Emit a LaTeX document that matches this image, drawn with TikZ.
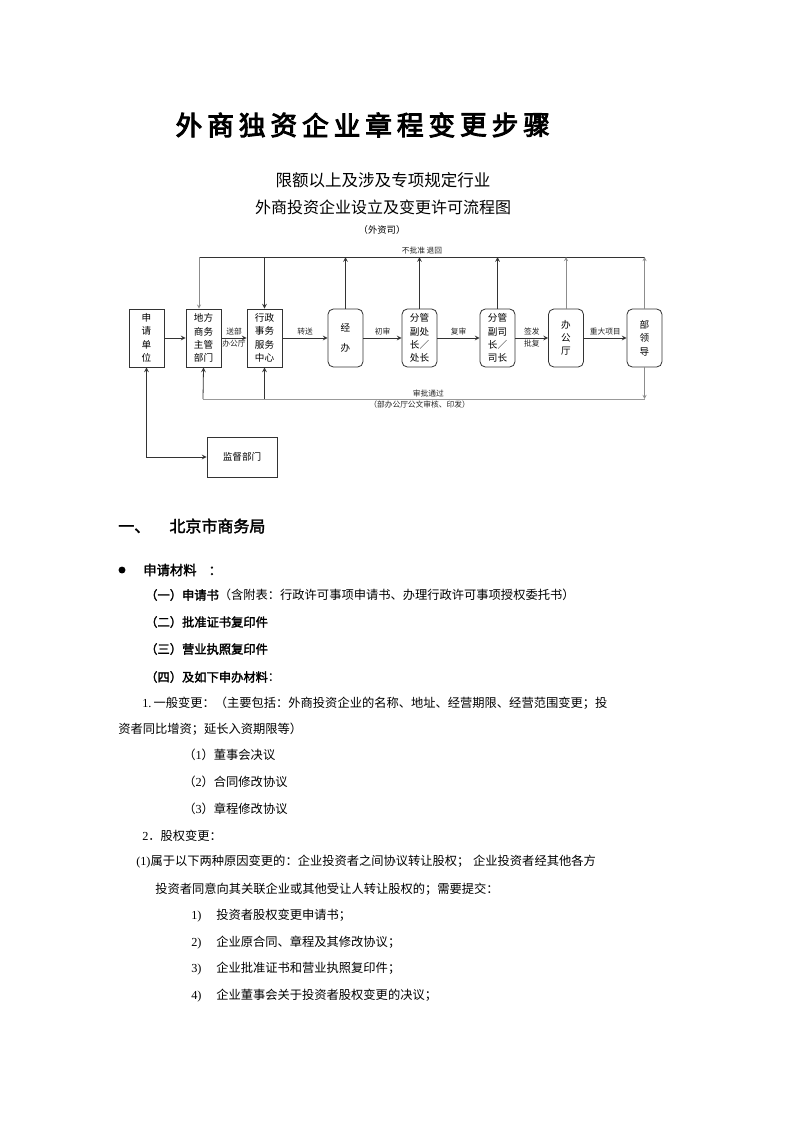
\documentclass[tikz,border=0pt]{standalone}
\usepackage{fontspec}
\usepackage{tikz}
\usetikzlibrary{arrows}
\newfontfamily\cjk[AutoFakeBold=2]{Noto Sans CJK SC}
\newfontfamily\cjktitle[FakeBold=3.5]{Noto Sans CJK SC}
\newfontfamily\lat{Liberation Serif}

\begin{document}
\begin{tikzpicture}[x=0.75pt,y=-0.75pt,
    box/.style={draw=black!80, line width=0.6pt, minimum width=26.25pt, minimum height=43.5pt, inner sep=0pt, align=center, font=\cjk\fontsize{7.2}{10}\selectfont},
    rbox/.style={box, rounded corners=4pt},
    lbl/.style={font=\cjk\fontsize{5.8}{7}\selectfont, inner sep=1.5pt, text=black!85},
    arr/.style={-stealth, line width=0.6pt, black!80},
    garr/.style={-stealth, line width=0.4pt, black!45},
    ln/.style={line width=0.6pt, black!80},
    gln/.style={line width=0.4pt, black!40},
    txt/.style={anchor=west, inner sep=0pt, font=\cjk\fontsize{9.2}{11}\selectfont}]
    \fill[white] (0,0) rectangle (793,1122);
    \useasboundingbox (0,0) rectangle (793,1122);
    %% Title
    \foreach \c [count=\i from 0] in {外,商,独,资,企,业,章,程,变,更,步,骤}
        \node[font=\cjktitle\fontsize{20}{20}\selectfont, inner sep=0pt] at (189+31.6*\i,125) {\c};
    %% Chart heading
    \node[font=\cjk\fontsize{12.4}{14}\selectfont] (head1) at (383,180) {限额以上及涉及专项规定行业};
    \node[font=\cjk\fontsize{12}{14}\selectfont] (head2) at (383,207) {外商投资企业设立及变更许可流程图};
    \node[font=\cjk\fontsize{7}{8}\selectfont] (head3) at (382,230) {（外资司）};
    %% Boxes
    \node[box] (sq) at (146.5,338) {申\\请\\单\\位};
    \node[box] (df) at (203.5,338) {地方\\商务\\主管\\部门};
    \node[box] (xz) at (264.5,338) {行政\\事务\\服务\\中心};
    \node[rbox, font=\cjk\fontsize{7.2}{15}\selectfont] (jb) at (345.5,338) {经\\办};
    \node[rbox] (fc) at (419.5,338) {分管\\副处\\长／\\处长};
    \node[rbox] (fs) at (497.5,338) {分管\\副司\\长／\\司长};
    \node[rbox] (bgt) at (566,338) {办\\公\\厅};
    \node[rbox] (bld) at (644.5,338) {部\\领\\导};
    \node[box, minimum width=52.5pt, minimum height=30pt] (jd) at (242,457) {监督部门};
    %% Main flow
    \draw[arr] (sq) -- (df);
    \draw[arr] (df) -- node[lbl,above]{送部} node[lbl,below]{办公厅} (xz);
    \draw[arr] (xz) -- node[lbl,above]{转送} (jb);
    \draw[arr] (jb) -- node[lbl,above]{初审} (fc);
    \draw[arr] (fc) -- node[lbl,above]{复审} (fs);
    \draw[arr] (fs) -- node[lbl,above]{签发} node[lbl,below]{批复} (bgt);
    \draw[arr] (bgt) -- node[lbl,above]{重大项目} (bld);
    %% Return line
    \coordinate (tl) at (199,257);
    \coordinate (tr) at (645,257);
    \draw[ln] (tl) -- node[lbl,above]{不批准\ 退回} (tr);
    \draw[garr] (tl) -- (tl |- df.north);
    \draw[arr] (xz.north |- tl) -- (xz.north);
    \foreach \n in {jb,fc,fs}
        \draw[arr] (\n.north) -- (\n.north |- tl);
    \draw[garr] (bgt.north) -- (bgt.north |- tl);
    \draw[garr] (bld.north) -- (bld.north |- tl);
    %% Approval line
    \coordinate (bl) at (203,399);
    \coordinate (br) at (645,399);
    \draw[gln] (bl) -- node[lbl,above,pos=0.51]{审批通过} node[lbl,below,pos=0.49]{（部办公厅公文审核、印发）} (br);
    \draw[arr] (bl) -- (df.south);
    \draw[arr] (xz.south |- bl) -- (xz.south);
    \draw[garr] (bld.south) -- (bld.south |- br);
    \draw[arr, stealth-stealth] (sq.south) |- (jd.west);
    %% Text
    \node[anchor=west, inner sep=0pt, font=\cjk\fontsize{12}{14}\selectfont\bfseries] (sec) at (118,526) {一、\hspace{1.2em}北京市商务局};
    \fill (122,570) circle[radius=2.6pt];
    \node[txt, font=\cjk\fontsize{10}{12}\selectfont\bfseries] (mat) at (143,570) {申请材料\hspace{0.9em}：};
    \node[txt] (m1) at (145,595) {\bfseries （一）申请书\mdseries （含附表：行政许可事项申请书、办理行政许可事项授权委托书）};
    \node[txt] (m2) at (145,622) {\bfseries （二）批准证书复印件};
    \node[txt] (m3) at (145,649) {\bfseries （三）营业执照复印件};
    \node[txt] (m4) at (145,677) {\bfseries （四）及如下申办材料\mdseries ：};
    \node[txt] (g1) at (142,703) {{\lat 1.}\,一般变更：（主要包括：外商投资企业的名称、地址、经营期限、经营范围变更；投};
    \node[txt] (g2) at (118,729) {资者同比增资；延长入资期限等）};
    \node[txt] (g3) at (183,755) {（{\lat 1}）董事会决议};
    \node[txt] (g4) at (183,782) {（{\lat 2}）合同修改协议};
    \node[txt] (g5) at (183,809) {（{\lat 3}）章程修改协议};
    \node[txt] (s1) at (142,836) {{\lat 2}．股权变更：};
    \node[txt] (s2) at (136,862) {{\lat (1)}属于以下两种原因变更的：企业投资者之间协议转让股权；\hspace{0.3em}企业投资者经其他各方};
    \node[txt] (s3) at (155,889) {投资者同意向其关联企业或其他受让人转让股权的；需要提交：};
    \foreach \n/\t/\y in {1/投资者股权变更申请书；/916, 2/企业原合同、章程及其修改协议；/943, 3/企业批准证书和营业执照复印件；/969, 4/企业董事会关于投资者股权变更的决议；/996}
        \node[txt] at (191,\y) {\makebox[18.75pt][l]{\lat\n)}\t};
\end{tikzpicture}
\end{document}
